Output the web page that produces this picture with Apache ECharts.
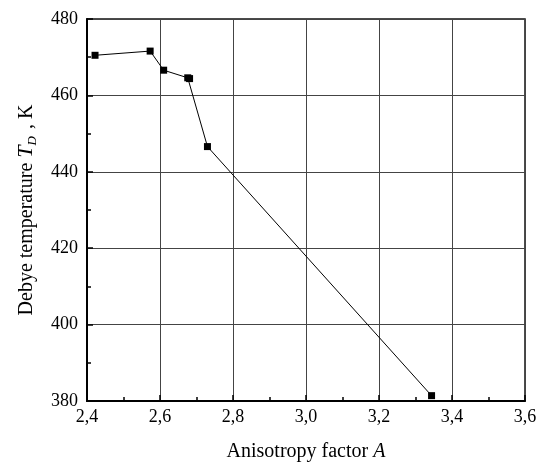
<!DOCTYPE html>
<html>
<head>
    <meta charset="utf-8">
    <title></title>
    <script src="https://cdn.jsdelivr.net/npm/echarts@6.0.0/dist/echarts.min.js"></script>
</head>
<body style="margin:0;background:#fff;">
<div id="main" style="width:548px;height:467px;"></div>
<script type="text/javascript">
    // anisotropy factor A and Debye temperature T_D
    var anisotropy = [2.422, 2.573, 2.61, 2.676, 2.681, 2.73, 3.344];
    var debyeTemp = [470.5, 471.6, 466.6, 464.6, 464.4, 446.6, 381.4];

    var points = [];
    for (var i = 0; i < anisotropy.length; i++) {
        points.push([anisotropy[i], debyeTemp[i]]);
    }

    var font = 'Liberation Serif';
    var myChart = echarts.init(document.getElementById('main'));
    myChart.setOption({
        animation: false,
        grid: {
            left: 87, right: 23, top: 19, bottom: 64,
            show: true, borderColor: '#111', borderWidth: 1.5
        },
        xAxis: {
            type: 'value',
            min: 2.4, max: 3.6, interval: 0.2,
            name: '{n|Anisotropy factor }{i|A}',
            nameLocation: 'middle',
            nameGap: 41,
            nameTextStyle: {
                rich: {
                    n: {fontFamily: font, fontSize: 20, color: '#000'},
                    i: {fontFamily: font, fontSize: 20, fontStyle: 'italic', color: '#000'}
                }
            },
            axisLine: {show: true, onZero: false, lineStyle: {color: '#000', width: 2}},
            axisTick: {inside: true, length: 6, lineStyle: {color: '#000', width: 1.5}},
            minorTick: {show: true, splitNumber: 2, length: 4, lineStyle: {color: '#000', width: 1.5}},
            splitLine: {show: true, lineStyle: {color: '#444', width: 1}},
            axisLabel: {
                fontFamily: font, fontSize: 18, color: '#000', margin: 7,
                formatter: function (v) { return v.toFixed(1).replace('.', ','); }
            }
        },
        yAxis: {
            type: 'value',
            min: 380, max: 480, interval: 20,
            name: '{n|Debye temperature }{i|T}{s|D}{n| , K}',
            nameLocation: 'middle',
            nameGap: 48,
            nameTextStyle: {
                rich: {
                    n: {fontFamily: font, fontSize: 20, color: '#000'},
                    i: {fontFamily: font, fontSize: 22, fontStyle: 'italic', color: '#000'},
                    s: {fontFamily: font, fontSize: 13, fontStyle: 'italic', color: '#000', verticalAlign: 'bottom', padding: [12, 2, 0, 0]}
                }
            },
            axisLine: {show: true, onZero: false, lineStyle: {color: '#000', width: 2}},
            axisTick: {inside: true, length: 6, lineStyle: {color: '#000', width: 1.5}},
            minorTick: {show: true, splitNumber: 2, length: 4, lineStyle: {color: '#000', width: 1.5}},
            splitLine: {show: true, lineStyle: {color: '#444', width: 1}},
            axisLabel: {fontFamily: font, fontSize: 18, color: '#000', margin: 9}
        },
        series: [{
            type: 'line',
            data: points,
            symbol: 'rect',
            symbolSize: 7,
            showAllSymbol: true,
            lineStyle: {color: '#000', width: 1},
            itemStyle: {color: '#000'}
        }]
    });
</script>
</body>
</html>
